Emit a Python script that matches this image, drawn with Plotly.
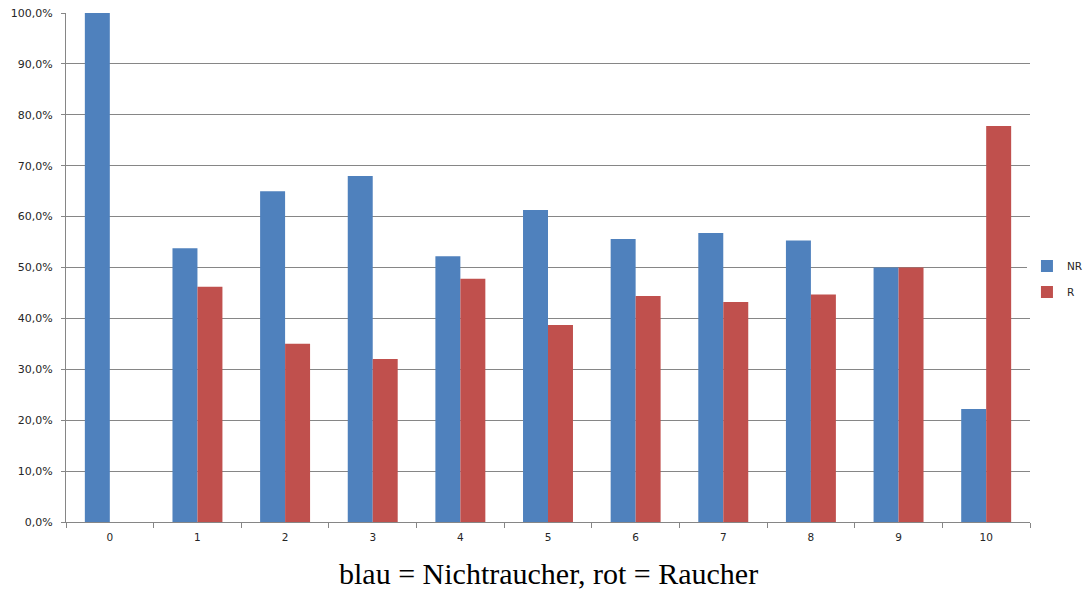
import plotly.graph_objects as go

categories = ["0", "1", "2", "3", "4", "5", "6", "7", "8", "9", "10"]
nr_values = [100.0, 53.8, 65.0, 68.0, 52.2, 61.3, 55.6, 56.8, 55.3, 50.0, 22.2]
r_values = [0.0, 46.2, 35.0, 32.0, 47.8, 38.7, 44.4, 43.2, 44.7, 50.0, 77.8]
y_ticks = [0, 10, 20, 30, 40, 50, 60, 70, 80, 90, 100]
y_ticklabels = ["0,0%", "10,0%", "20,0%", "30,0%", "40,0%", "50,0%",
                "60,0%", "70,0%", "80,0%", "90,0%", "100,0%"]
caption = "blau = Nichtraucher, rot = Raucher"

fig = go.Figure()
fig.add_trace(go.Bar(x=categories, y=nr_values, name="NR", legendgroup="nr",
                     marker=dict(color="#4F81BD", line=dict(width=0))))
fig.add_trace(go.Bar(x=categories, y=r_values, name="R", legendgroup="r",
                     marker=dict(color="#C0504D", line=dict(width=0))))

# page body has an 8px default margin, so the figure is offset by 8px
fig.update_layout(
    width=1084, height=583,
    margin=dict(l=58, r=62, t=5, b=69, autoexpand=False),
    paper_bgcolor="white", plot_bgcolor="white",
    barmode="group", bargap=0.43, bargroupgap=0,
    font=dict(family="DejaVu Sans", size=10.5, color="#262626"),
    legend=dict(xref="container", yref="container", x=0.940, xanchor="left",
                y=0.535, yanchor="middle", font=dict(size=10.5),
                itemwidth=30, traceorder="grouped", tracegroupgap=7),
    xaxis=dict(type="category", showline=True, linecolor="#868686", linewidth=1,
               ticks="outside", tickson="boundaries", ticklen=5, tickcolor="#868686",
               showgrid=False, tickfont=dict(size=10.5), ticklabelstandoff=5,
               automargin=False),
    yaxis=dict(range=[0, 100], tickvals=y_ticks, ticktext=y_ticklabels,
               showline=True, linecolor="#868686", linewidth=1,
               ticks="outside", ticklen=4, tickcolor="#868686",
               showgrid=True, gridcolor="#868686", gridwidth=1,
               zeroline=False, tickfont=dict(size=11), ticklabelstandoff=6,
               ticklabeloverflow="allow", automargin=False),
    annotations=[dict(text=caption, xref="paper", yref="paper", x=0.5, y=-0.102,
                      xanchor="center", yanchor="middle", showarrow=False,
                      font=dict(family="Liberation Serif", size=30, color="black"))],
)

fig.write_html("out.html")
